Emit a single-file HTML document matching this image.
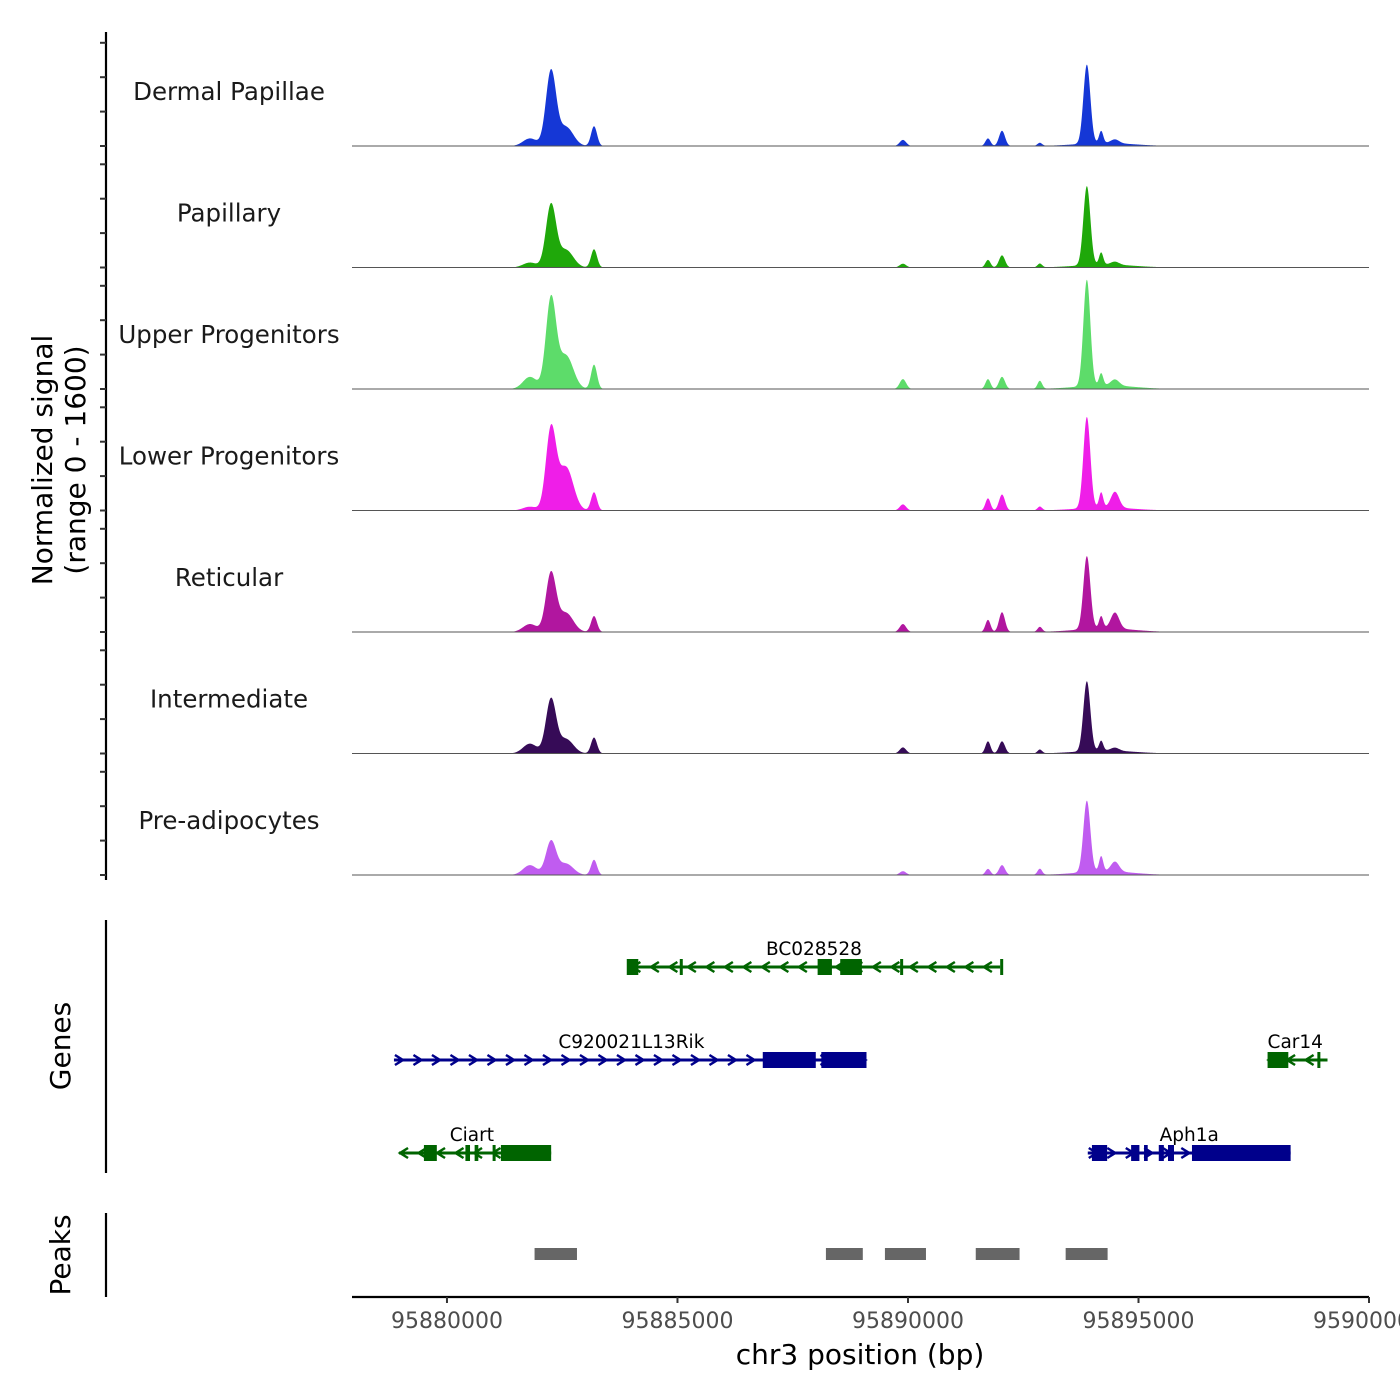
<!DOCTYPE html>
<html><head><meta charset="utf-8"><style>
body{margin:0;background:#fff}
svg{display:block;font-family:"DejaVu Sans","Liberation Sans",sans-serif}
</style></head><body>
<svg id="c" width="1400" height="1400" viewBox="0 0 1400 1400"></svg>
<script>
const trackNames=["Dermal Papillae","Papillary","Upper Progenitors","Lower Progenitors","Reticular","Intermediate","Pre-adipocytes"];
const trackColors=["#1537d6","#1fa80a","#5ddc6a","#ef1ee8","#b1169f","#360b57","#c05cf0"];
// peak centers (bp) and widths (bp)
const peakCenters=[95881800,95882256,95882580,95883190,95889890,95891735,95892040,95892860,95893880,95894190,95894490,95894270];
const peakWidths=[150,110,160,65,70,55,65,50,75,45,90,600];
// signal per track (0-1600)
const sigDP=[100,980,250,260,80,100,200,40,1040,160,50,40];
const sigPap=[65,820,230,240,50,100,160,50,1040,160,40,40];
const sigUp=[160,1180,440,320,130,130,160,105,1400,160,80,50];
const sigLow=[50,1060,570,240,80,160,210,50,1200,200,210,40];
const sigRet=[105,770,250,210,105,160,260,65,960,160,210,50];
const sigInt=[130,710,190,210,80,160,160,50,920,130,40,40];
const sigPre=[130,440,150,200,50,80,130,80,940,200,130,50];
const signals=[sigDP,sigPap,sigUp,sigLow,sigRet,sigInt,sigPre];
const xTicks=[95880000,95885000,95890000,95895000,95900000];
const genes=[
 {name:"BC028528",row:0,strand:-1,color:"#006400",start:95884000,end:95892000,label:95887960,
  exons:[[95883900,95884150],[95885050,95885100],[95888040,95888350],[95888530,95889000],[95889830,95889880],[95892000,95892050]]},
 {name:"C920021L13Rik",row:1,strand:1,color:"#00008b",start:95878850,end:95889100,label:95884000,
  exons:[[95886850,95888000],[95888120,95889100]]},
 {name:"Car14",row:1,strand:-1,color:"#006400",start:95897800,end:95899100,label:95898400,
  exons:[[95897800,95898250],[95898880,95898930]]},
 {name:"Ciart",row:2,strand:-1,color:"#006400",start:95878960,end:95882260,label:95880540,
  exons:[[95879500,95879780],[95880400,95880500],[95880600,95880680],[95880990,95881040],[95881170,95882260]]},
 {name:"Aph1a",row:2,strand:1,color:"#00008b",start:95893900,end:95898300,label:95896100,
  exons:[[95893990,95894320],[95894840,95895020],[95895120,95895200],[95895440,95895550],[95895640,95895770],[95896160,95898300]]}
];
const peakStarts=[95881900,95888220,95889500,95891470,95893420];
const peakEnds=[95882820,95889020,95890390,95892420,95894330];

const svg=document.getElementById('c');const NS="http://www.w3.org/2000/svg";
function el(t,a,p){const e=document.createElementNS(NS,t);for(const k in a)e.setAttribute(k,a[k]);(p||svg).appendChild(e);return e;}
const X0=352,X1=1369,B0=95877940,B1=95900000;
const xs=b=>X0+(b-B0)/(B1-B0)*(X1-X0);
const TH=121.5,base0=146;
const ys=(v,i)=>base0+i*TH-v/1600*TH;

let ax=el('line',{x1:106,y1:32,x2:106,y2:880,stroke:'#000','stroke-width':2.2});

for(let i=0;i<7;i++)for(let k=0;k<4;k++){const y=base0+i*TH-k*34.4;
 const t=el('line',{x1:100,y1:y,x2:106,y2:y,stroke:'#333','stroke-width':2});
 }
for(let i=0;i<7;i++){
 const g=el('g',{});
 const s=signals[i];let d='M'+X0+','+(base0+i*TH);
 for(let px=X0;px<=X1;px+=0.5){const b=B0+(px-X0)/(X1-X0)*(B1-B0);let v=0;
  for(let j=0;j<peakCenters.length;j++){const z=(b-peakCenters[j])/peakWidths[j];v+=s[j]*Math.exp(-z*z/2);}
  d+=' L'+px+','+ys(Math.min(v,1600),i).toFixed(2);}
 d+=' L'+X1+','+(base0+i*TH)+'Z';
 const a=el('path',{d,fill:trackColors[i]},g);
 el('line',{x1:X0,y1:base0+i*TH,x2:X1,y2:base0+i*TH,stroke:'#555','stroke-width':1},g);
 const lb=el('text',{x:229,y:base0+i*TH-46,'text-anchor':'middle','font-size':24.5,fill:'#1a1a1a'},g);lb.textContent=trackNames[i];
 
}
let yt=el('text',{transform:'translate(52,460) rotate(-90)','text-anchor':'middle','font-size':28,fill:'#000'});yt.textContent='Normalized signal';

let yt2=el('text',{transform:'translate(85,460) rotate(-90)','text-anchor':'middle','font-size':28,fill:'#000'});yt2.textContent='(range 0 - 1600)';


let ga=el('line',{x1:106,y1:920,x2:106,y2:1173,stroke:'#000','stroke-width':2.2});
let gt=el('text',{transform:'translate(70,1046) rotate(-90)','text-anchor':'middle','font-size':28});gt.textContent='Genes';

const rowY=[967,1060,1153];
genes.forEach(g=>{const y=rowY[g.row];const G=el('g',{});
 const x1=xs(g.start),x2=xs(g.end);
 el('line',{x1,y1:y,x2,y2:y,stroke:g.color,'stroke-width':3},G);
 for(let x=x1+5;x<x2-3;x+=18.5){const dx=4*g.strand;
  el('polyline',{points:`${x-dx},${y-5} ${x+dx},${y} ${x-dx},${y+5}`,fill:'none',stroke:g.color,'stroke-width':2.5},G);}
 g.exons.forEach(e=>{const r=el('rect',{x:xs(e[0]),y:y-8,width:Math.max(3,xs(e[1])-xs(e[0])),height:16,fill:g.color},G);
  });
 const t=el('text',{x:xs(g.label),y:y-12,'text-anchor':'middle','font-size':18.5,fill:'#000'},G);t.textContent=g.name;
 
});
let pa=el('line',{x1:106,y1:1213,x2:106,y2:1297,stroke:'#000','stroke-width':2.2});
let pt=el('text',{transform:'translate(70,1255) rotate(-90)','text-anchor':'middle','font-size':28});pt.textContent='Peaks';

peakStarts.forEach((s,i)=>{const r=el('rect',{x:xs(s),y:1248,width:xs(peakEnds[i])-xs(s),height:12,fill:'#666'});
 });
let xa=el('line',{x1:X0,y1:1297,x2:X1,y2:1297,stroke:'#000','stroke-width':2.2});
xTicks.forEach(v=>{const x=xs(v);el('line',{x1:x,y1:1297,x2:x,y2:1303,stroke:'#333','stroke-width':2});
 const t=el('text',{x,y:1328,'text-anchor':'middle','font-size':22,fill:'#4d4d4d'});t.textContent=v;
 });
let xt=el('text',{x:860,y:1364,'text-anchor':'middle','font-size':28});xt.textContent='chr3 position (bp)';

</script>
</body></html>
